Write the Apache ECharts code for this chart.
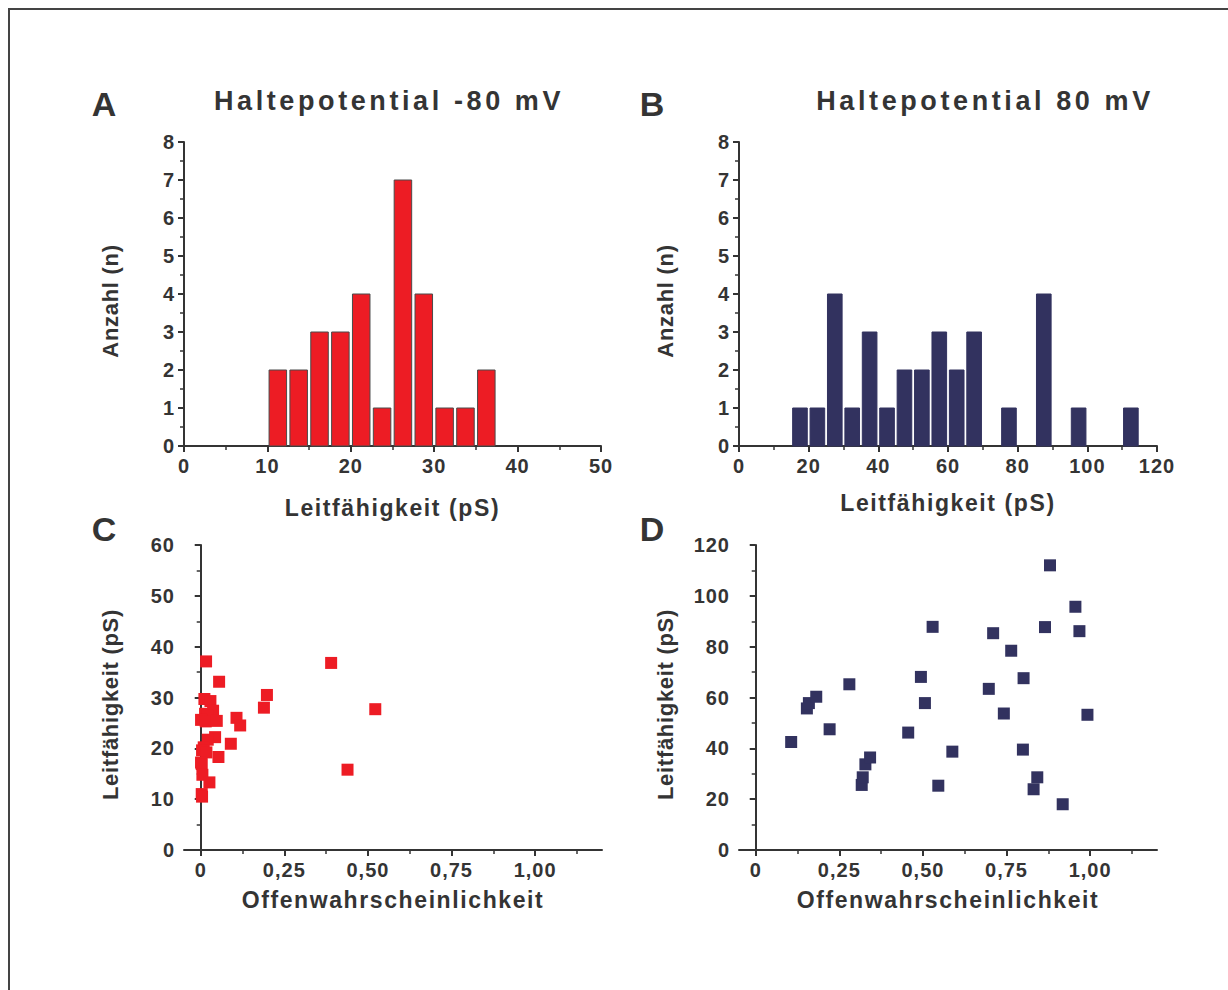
<!DOCTYPE html>
<html>
<head>
<meta charset="utf-8">
<script src="https://cdn.jsdelivr.net/npm/echarts@6/dist/echarts.min.js"></script>
<style>
  html, body { margin: 0; padding: 0; background: #ffffff; }
  #chart { width: 1228px; height: 990px; }
</style>
</head>
<body>
<div id="chart"></div>
<script>
// ---- Histogram A: conductance distribution at -80 mV holding potential ----
const binWidthNeg = 2.5;
const binCentersNeg = [11.25, 13.75, 16.25, 18.75, 21.25, 23.75, 26.25, 28.75, 31.25, 33.75, 36.25];
const countsNeg = [2, 2, 3, 3, 4, 1, 7, 4, 1, 1, 2];

// ---- Histogram B: conductance distribution at +80 mV holding potential ----
const binWidthPos = 5;
const binCentersPos = [17.5, 22.5, 27.5, 32.5, 37.5, 42.5, 47.5, 52.5, 57.5, 62.5, 67.5, 77.5, 87.5, 97.5, 112.5];
const countsPos = [1, 1, 4, 1, 3, 1, 2, 2, 3, 2, 3, 1, 4, 1, 1];

// ---- Scatter C: open probability vs. conductance at -80 mV ----
const openProbNeg = [0.016, 0.390, 0.055, 0.198, 0.011, 0.029, 0.189, 0.522, 0.037, 0.013,
                     0.020, 0.107, 0.001, 0.015, 0.048, 0.118, 0.043, 0.021, 0.090, 0.009,
                     0.004, 0.017, 0.053, 0.001, 0.003, 0.439, 0.005, 0.026, 0.003, 0.004];
const conductNeg = [37.1, 36.8, 33.1, 30.5, 29.7, 29.3, 28.0, 27.7, 27.4, 26.8,
                    26.5, 26.0, 25.6, 25.3, 25.4, 24.5, 22.2, 21.7, 20.9, 20.2,
                    19.6, 19.2, 18.3, 17.2, 16.9, 15.8, 14.8, 13.3, 11.0, 10.5];

// ---- Scatter D: open probability vs. conductance at +80 mV ----
const openProbPos = [0.106, 0.153, 0.159, 0.181, 0.221, 0.280, 0.317, 0.320, 0.328, 0.342,
                     0.456, 0.494, 0.506, 0.529, 0.546, 0.588, 0.697, 0.710, 0.742, 0.764,
                     0.801, 0.799, 0.831, 0.842, 0.865, 0.880, 0.918, 0.956, 0.968, 0.992];
const conductPos = [42.5, 55.7, 57.8, 60.3, 47.5, 65.2, 25.6, 28.6, 33.7, 36.4,
                    46.2, 68.1, 57.8, 87.8, 25.3, 38.7, 63.4, 85.3, 53.7, 78.4,
                    67.6, 39.5, 23.9, 28.6, 87.7, 112.0, 18.0, 95.7, 86.1, 53.2];

// ---- Tick labels of the open-probability axes ----
const probTicks = [0, 0.25, 0.5, 0.75, 1.0];
const probTickLabels = ['0', '0,25', '0,50', '0,75', '1,00'];
const probMinorTicks = [0.125, 0.375, 0.625, 0.875, 1.125];

// ---- Texts ----
const panelLetters = ['A', 'B', 'C', 'D'];
const titleTexts = ['Haltepotential -80 mV', 'Haltepotential 80 mV'];
const nameCount = 'Anzahl (n)';
const nameConduct = 'Leitfähigkeit (pS)';
const nameProb = 'Offenwahrscheinlichkeit';

const FONT = 'Liberation Sans, Arial, sans-serif';
const INK = '#343434';
const RED = '#ed1c24';
const NAVY = '#32325f';

const lineStyle = { color: INK, width: 2 };

function yAxisDef(grid, max, interval, name) {
  return {
    gridIndex: grid, type: 'value', min: 0, max: max, interval: interval,
    name: name, nameLocation: 'middle', nameGap: 63,
    nameTextStyle: { fontFamily: FONT, fontWeight: 'bold', fontSize: 22, color: INK, padding: [0, 14, 0, 0] },
    axisLine: { show: true, lineStyle: lineStyle },
    axisTick: { show: true, length: 6, lineStyle: { color: INK, width: 2 } },
    minorTick: { show: true, splitNumber: 2, length: 4, lineStyle: { color: INK, width: 1.5 } },
    axisLabel: { fontFamily: FONT, fontWeight: 'bold', fontSize: 20, color: INK, margin: 9 },
    splitLine: { show: false }
  };
}

function xAxisDef(grid, min, max, interval, name, nameGap) {
  return {
    gridIndex: grid, type: 'value', min: min, max: max, interval: interval,
    position: 'bottom',
    name: name, nameLocation: 'middle', nameGap: nameGap,
    nameTextStyle: { fontFamily: FONT, fontWeight: 'bold', fontSize: 23, color: INK },
    axisLine: { show: true, onZero: false, lineStyle: lineStyle },
    axisTick: { show: true, length: 6, lineStyle: { color: INK, width: 2 } },
    minorTick: { show: true, splitNumber: 2, length: 4, lineStyle: { color: INK, width: 1.5 } },
    axisLabel: { fontFamily: FONT, fontWeight: 'bold', fontSize: 20, color: INK, margin: 10 },
    splitLine: { show: false }
  };
}

function probAxis(grid) {
  const ax = xAxisDef(grid, -0.05, 1.2, null, nameProb, 38);
  delete ax.interval;
  ax.minorTick = { show: false };
  ax.axisTick.customValues = probTicks;
  ax.axisLabel.customValues = probTicks;
  ax.axisLabel.formatter = function (v) {
    const i = probTicks.findIndex(function (t) { return Math.abs(t - v) < 1e-9; });
    return i >= 0 ? probTickLabels[i] : '';
  };
  return ax;
}

function probMinorAxis(grid) {
  return {
    gridIndex: grid, type: 'value', min: -0.05, max: 1.2, position: 'bottom',
    axisLine: { show: false, onZero: false },
    axisTick: { show: true, length: 4, customValues: probMinorTicks, lineStyle: { color: INK, width: 1.5 } },
    axisLabel: { show: false },
    splitLine: { show: false }
  };
}

// Histogram bars drawn from bin centre and count through the axis scales
function histItem(binWidth, fill, stroke) {
  const half = binWidth * 0.42;
  return function (params, api) {
    const c = api.value(0), n = api.value(1);
    const top = api.coord([c - half, n]);
    const base = api.coord([c + half, 0]);
    return {
      type: 'rect',
      shape: { x: top[0], y: top[1], width: base[0] - top[0], height: base[1] - top[1] },
      style: { fill: fill, stroke: stroke, lineWidth: 1 }
    };
  };
}

function pairs(xs, ys) { return xs.map(function (x, i) { return [x, ys[i]]; }); }

function label(text, x, y, size) {
  return {
    type: 'text', x: x, y: y, silent: true,
    style: { text: text, x: 0, y: 0, align: 'center', verticalAlign: 'middle',
             font: 'bold ' + size + 'px ' + FONT, fill: INK }
  };
}

const option = {
  animation: false,
  backgroundColor: '#ffffff',
  grid: [
    { left: 184, top: 142, width: 417, height: 304 },
    { left: 739, top: 142, width: 418, height: 304 },
    { left: 184, top: 545, width: 418, height: 305 },
    { left: 739, top: 545, width: 418, height: 305 }
  ],
  xAxis: [
    xAxisDef(0, 0, 50, 10, nameConduct, 50),
    xAxisDef(1, 0, 120, 20, nameConduct, 45),
    probAxis(2),
    probAxis(3),
    probMinorAxis(2),
    probMinorAxis(3)
  ],
  yAxis: [
    yAxisDef(0, 8, 1, nameCount),
    yAxisDef(1, 8, 1, nameCount),
    yAxisDef(2, 60, 10, nameConduct),
    yAxisDef(3, 120, 20, nameConduct)
  ],
  series: [
    {
      type: 'custom', xAxisIndex: 0, yAxisIndex: 0, encode: { x: 0, y: 1 },
      data: pairs(binCentersNeg, countsNeg),
      renderItem: histItem(binWidthNeg, RED, '#4a4a4a')
    },
    {
      type: 'custom', xAxisIndex: 1, yAxisIndex: 1, encode: { x: 0, y: 1 },
      data: pairs(binCentersPos, countsPos),
      renderItem: histItem(binWidthPos, NAVY, NAVY)
    },
    {
      type: 'scatter', xAxisIndex: 2, yAxisIndex: 2, symbol: 'rect', symbolSize: 12,
      itemStyle: { color: RED, opacity: 1 },
      data: pairs(openProbNeg, conductNeg)
    },
    {
      type: 'scatter', xAxisIndex: 3, yAxisIndex: 3, symbol: 'rect', symbolSize: 12,
      itemStyle: { color: NAVY, opacity: 1 },
      data: pairs(openProbPos, conductPos)
    }
  ],
  graphic: [
    { type: 'rect', silent: true, shape: { x: 9, y: 9, width: 1260, height: 1020 },
      style: { fill: 'none', stroke: '#444444', lineWidth: 2 } },
    label(panelLetters[0], 104, 104, 34),
    label(panelLetters[1], 652, 104, 34),
    label(panelLetters[2], 104, 529, 34),
    label(panelLetters[3], 652, 529, 34),
    label(titleTexts[0], 389, 101, 27),
    label(titleTexts[1], 985, 101, 27)
  ]
};

const chart = echarts.init(document.getElementById('chart'), null, { renderer: 'svg' });
chart.setOption(option);

// Spread the letters the way the figure's typesetting does
function spaceText() {
  document.querySelectorAll('#chart svg text').forEach(function (el) {
    const t = el.textContent;
    let s = 1;
    if (titleTexts.indexOf(t) >= 0) s = 3.6;
    else if (panelLetters.indexOf(t) >= 0) s = 0;
    else if (t === nameCount || t === nameConduct || t === nameProb) {
      const r = el.getBoundingClientRect();
      s = r.height > r.width ? 0.7 : 1.6;
    }
    el.setAttribute('letter-spacing', s);
  });
}
spaceText();
chart.on('finished', spaceText);
</script>
</body>
</html>
